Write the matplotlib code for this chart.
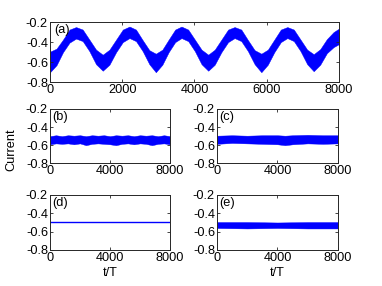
import numpy as np
import matplotlib
matplotlib.use("Agg")
import matplotlib.pyplot as plt

plt.rcParams["font.family"] = ["Liberation Sans", "DejaVu Sans"]
plt.rcParams["axes.unicode_minus"] = False

# (a) envelope of the fast oscillation
t_a = [0, 180, 360, 540, 720, 905, 1090, 1275, 1460, 1645, 1830, 2015, 2200,
       2380, 2565, 2750, 2930, 3110, 3285, 3465, 3640, 3825, 4010, 4195, 4380,
       4560, 4745, 4930, 5110, 5295, 5480, 5665, 5850, 6030, 6210, 6390, 6570,
       6750, 6935, 7120, 7300, 7480, 7665, 7850, 8000]
upper_a = [-0.495, -0.465, -0.375, -0.275, -0.25,
           -0.275, -0.375, -0.475, -0.525,
           -0.475, -0.375, -0.275, -0.245,
           -0.275, -0.38, -0.48, -0.515,
           -0.475, -0.375, -0.275, -0.245,
           -0.275, -0.375, -0.475, -0.525,
           -0.475, -0.375, -0.275, -0.25,
           -0.275, -0.38, -0.48, -0.515,
           -0.475, -0.375, -0.275, -0.25,
           -0.275, -0.375, -0.475, -0.52,
           -0.47, -0.37, -0.30, -0.265]
lower_a = [-0.70, -0.63, -0.50, -0.405, -0.365,
           -0.39, -0.49, -0.62, -0.685,
           -0.625, -0.50, -0.40, -0.36,
           -0.39, -0.49, -0.62, -0.70,
           -0.625, -0.50, -0.40, -0.36,
           -0.39, -0.49, -0.62, -0.685,
           -0.625, -0.50, -0.40, -0.36,
           -0.39, -0.49, -0.62, -0.70,
           -0.625, -0.50, -0.40, -0.36,
           -0.39, -0.49, -0.62, -0.69,
           -0.625, -0.51, -0.45, -0.42]

# (b)
t_b = [0, 400, 800, 1200, 1600, 2000, 2400, 2800, 3200, 3600, 4000,
       4400, 4800, 5200, 5600, 6000, 6400, 6800, 7200, 7600, 8000]
upper_b = [-0.50, -0.49, -0.50, -0.49, -0.495, -0.49, -0.50, -0.49, -0.495,
           -0.49, -0.50, -0.49, -0.495, -0.49, -0.50, -0.49, -0.495, -0.49,
           -0.50, -0.49, -0.50]
lower_b = [-0.59, -0.58, -0.585, -0.58, -0.59, -0.58, -0.60, -0.585, -0.58,
           -0.585, -0.59, -0.60, -0.585, -0.58, -0.59, -0.58, -0.585, -0.60,
           -0.585, -0.58, -0.59]

# (c)
t_c = [0, 1000, 2000, 3000, 4000, 4500, 5000, 6000, 7000, 8000]
upper_c = [-0.495, -0.49, -0.495, -0.49, -0.49, -0.495, -0.49, -0.485, -0.49, -0.49]
lower_c = [-0.585, -0.575, -0.58, -0.585, -0.59, -0.60, -0.59, -0.58, -0.585, -0.58]

# (d)
t_d = [0, 8000]
y_d = [-0.497, -0.497]

# (e)
t_e = [0, 2000, 4000, 6000, 8000]
upper_e = [-0.495, -0.495, -0.50, -0.495, -0.495]
lower_e = [-0.56, -0.565, -0.56, -0.565, -0.565]

yticks = [-0.8, -0.6, -0.4, -0.2]
ytick_labels = ["-0.8", "-0.6", "-0.4", "-0.2"]

fig = plt.figure(figsize=(3.82, 2.86), dpi=100)

pos = {
    "a": [0.1309, 0.7122, 0.7565, 0.2108],
    "b": [0.1309, 0.4290, 0.3141, 0.1899],
    "c": [0.5680, 0.4290, 0.3168, 0.1899],
    "d": [0.1309, 0.1259, 0.3141, 0.1923],
    "e": [0.5680, 0.1259, 0.3168, 0.1923],
}

fs = 9.2
axes = {}
for k, p in pos.items():
    ax = fig.add_axes(p)
    ax.set_xlim(0, 8000)
    ax.set_ylim(-0.8, -0.2)
    ax.set_yticks(yticks)
    ax.set_yticklabels(ytick_labels)
    if k == "a":
        ax.set_xticks([0, 2000, 4000, 6000, 8000])
    else:
        ax.set_xticks([0, 4000, 8000])
    ax.tick_params(direction="in", length=2.5, width=0.6, labelsize=fs,
                   top=True, right=True, pad=1.5, colors="#262626",
                   labelcolor="black")
    for s in ax.spines.values():
        s.set_linewidth(0.7)
        s.set_color("#262626")
    ax.text(0.015, 0.96, "(" + k + ")", transform=ax.transAxes,
            fontsize=fs, va="top", ha="left")
    axes[k] = ax

blue = "#0000ff"
axes["a"].fill_between(t_a, lower_a, upper_a, color=blue, lw=0.3)
axes["b"].fill_between(t_b, lower_b, upper_b, color=blue, lw=0.3)
axes["c"].fill_between(t_c, lower_c, upper_c, color=blue, lw=0.3)
axes["d"].plot(t_d, y_d, color=blue, lw=1.0)
axes["e"].fill_between(t_e, lower_e, upper_e, color=blue, lw=0.3)

axes["d"].set_xlabel("t/T", fontsize=fs, labelpad=2)
axes["e"].set_xlabel("t/T", fontsize=fs, labelpad=2)
fig.text(11 / 382, 1 - 150 / 286, "Current", rotation=90, fontsize=fs,
         ha="center", va="center")

fig.savefig("out.png", dpi=100)
